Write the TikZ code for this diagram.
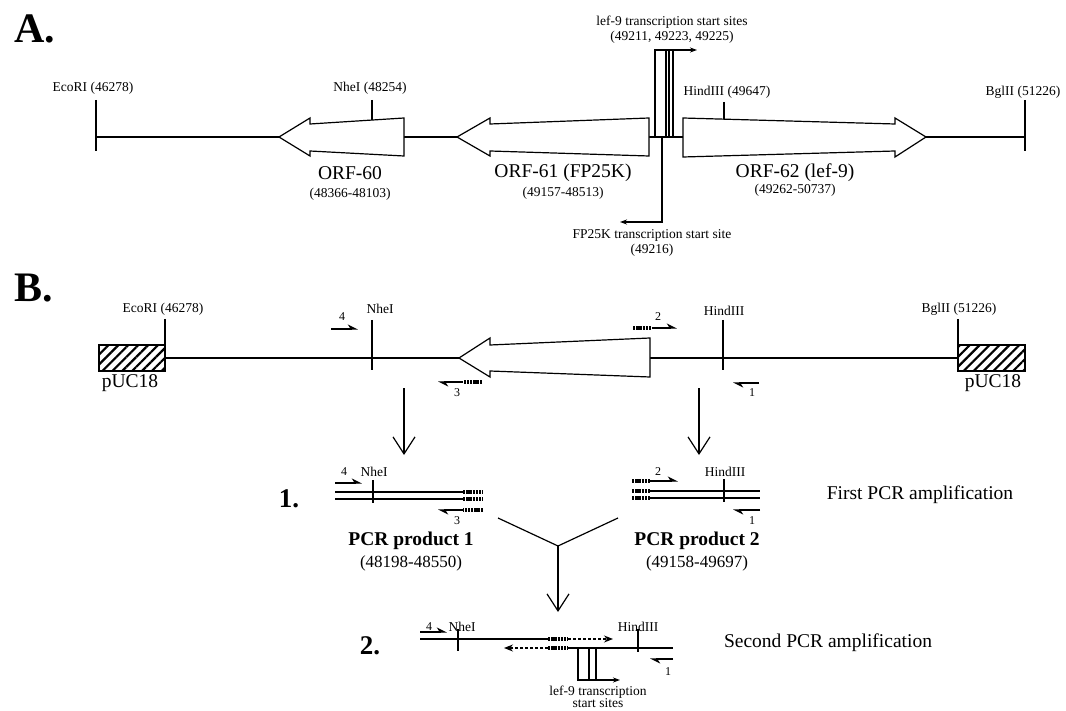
\documentclass[tikz,border=0pt]{standalone}
\usepackage{fontspec}
\setmainfont{Liberation Serif}
\usepackage{tikz}
\usetikzlibrary{arrows.meta}
\usetikzlibrary{patterns.meta}
\usetikzlibrary{backgrounds}
\pgfdeclarelayer{edgelayer}
\pgfdeclarelayer{nodelayer}
\pgfsetlayers{background,edgelayer,nodelayer,main}
\tikzstyle{none}=[inner sep=0mm]
\tikzstyle{lbl}=[inner sep=0mm,font=\fontsize{13.5}{15}\selectfont]
\tikzstyle{num}=[inner sep=0mm,font=\fontsize{12}{13}\selectfont]
\tikzstyle{orf lbl}=[inner sep=0mm,font=\fontsize{19.5}{22}\selectfont]
\tikzstyle{span lbl}=[inner sep=0mm,font=\fontsize{17}{19}\selectfont]
\tikzstyle{panel}=[inner sep=0mm,font=\fontsize{42}{44}\selectfont\bfseries]
\tikzstyle{stepno}=[inner sep=0mm,font=\fontsize{27}{30}\selectfont\bfseries]
\tikzstyle{prod}=[inner sep=0mm,font=\fontsize{19.5}{22}\selectfont\bfseries]
\tikzstyle{dna}=[line width=1.2pt]
\tikzstyle{orf}=[draw,fill=white,line width=1.2pt,line join=miter]
\tikzstyle{primer}=[line width=1.2pt,-{Stealth[harpoon,length=9pt,width=9pt]}]
\tikzstyle{tail}=[line width=4.2pt,dash pattern=on 2.4pt off 0.8pt]
\tikzstyle{down}=[line width=1.2pt,-{Straight Barb[length=17pt,width=22pt,line width=1.2pt]}]
\tikzstyle{start}=[line width=1.2pt,-{Stealth[length=7pt,width=5pt]}]
\tikzstyle{ext}=[line width=1.2pt,dash pattern=on 3pt off 2pt,-{Stealth[length=9pt,width=7pt]}]
\tikzstyle{puc}=[draw,line width=1.2pt,pattern={Lines[angle=45,distance=7pt,line width=2.2pt]}]

\begin{document}
\begin{tikzpicture}[x=1pt,y=-1pt]
	\useasboundingbox (0,0) rectangle (1066,711);
	\begin{pgfonlayer}{nodelayer}
		% panel A
		\node [style=panel] (pa) at (35, 29) {A.};
		\node [style=lbl] (ecoa) at (93, 88) {EcoRI (46278)};
		\node [style=lbl] (nhea) at (370, 88) {NheI (48254)};
		\node [style=lbl] (hinda) at (727, 92) {HindIII (49647)};
		\node [style=lbl] (bgla) at (1023, 92) {BglII (51226)};
		\node [style=lbl] (lefa) at (672, 22) {lef-9 transcription start sites};
		\node [style=lbl] (lefb) at (672, 37) {(49211, 49223, 49225)};
		\node [style=lbl] (fpa) at (652, 235) {FP25K transcription start site};
		\node [style=lbl] (fpb) at (652, 250) {(49216)};
		\node [style=orf lbl] (o60) at (350, 173) {ORF-60};
		\node [style=lbl] (o60r) at (350, 194) {(48366-48103)};
		\node [style=orf lbl] (o61) at (563, 173) {ORF-61 (FP25K)};
		\node [style=lbl] (o61r) at (563, 193) {(49157-48513)};
		\node [style=orf lbl] (o62) at (795, 173) {ORF-62 (lef-9)};
		\node [style=lbl] (o62r) at (795, 190) {(49262-50737)};
		% panel B
		\node [style=panel] (pb) at (34, 288) {B.};
		\node [style=lbl] (ecob) at (163, 309) {EcoRI (46278)};
		\node [style=lbl] (nheb) at (380, 309) {NheI};
		\node [style=lbl] (hindb) at (724, 311) {HindIII};
		\node [style=lbl] (bglb) at (959, 309) {BglII (51226)};
		\node [style=orf lbl] (puca) at (130, 383) {pUC18};
		\node [style=orf lbl] (pucb) at (993, 383) {pUC18};
		\node [style=num] (p4b) at (342, 317) {4};
		\node [style=num] (p2b) at (658, 317) {2};
		\node [style=num] (p3b) at (457, 393) {3};
		\node [style=num] (p1b) at (752, 393) {1};
		% first PCR
		\node [style=stepno] (s1) at (289, 499) {1.};
		\node [style=num] (p4c) at (344, 472) {4};
		\node [style=lbl] (nhec) at (374, 472) {NheI};
		\node [style=num] (p3c) at (457, 521) {3};
		\node [style=prod] (pcr1) at (411, 541) {PCR product 1};
		\node [style=span lbl] (pcr1r) at (411, 563) {(48198-48550)};
		\node [style=num] (p2c) at (658, 472) {2};
		\node [style=lbl] (hindc) at (725, 472) {HindIII};
		\node [style=num] (p1c) at (752, 521) {1};
		\node [style=prod] (pcr2) at (697, 541) {PCR product 2};
		\node [style=span lbl] (pcr2r) at (697, 563) {(49158-49697)};
		\node [style=orf lbl] (first) at (920, 495) {First PCR amplification};
		% second PCR
		\node [style=stepno] (s2) at (370, 646) {2.};
		\node [style=num] (p4d) at (429, 627) {4};
		\node [style=lbl] (nhed) at (462, 627) {NheI};
		\node [style=lbl] (hindd) at (638, 627) {HindIII};
		\node [style=num] (p1d) at (668, 672) {1};
		\node [style=lbl] (lefc) at (598, 692) {lef-9 transcription};
		\node [style=lbl] (lefd) at (598, 703) {start sites};
		\node [style=orf lbl] (second) at (828, 643) {Second PCR amplification};
		% connector ends
		\node [style=none] (d1a) at (404, 388) {};
		\node [style=none] (d1b) at (404, 455) {};
		\node [style=none] (d2a) at (699, 388) {};
		\node [style=none] (d2b) at (699, 455) {};
		\node [style=none] (y1) at (498, 518) {};
		\node [style=none] (y2) at (618, 518) {};
		\node [style=none] (yj) at (558, 546) {};
		\node [style=none] (yb) at (558, 612) {};
	\end{pgfonlayer}
	\begin{pgfonlayer}{edgelayer}
		% panel A map
		\draw[dna] (96, 137) -- (1025, 137);
		\draw[dna] (96, 100) -- (96, 151);
		\draw[dna] (1025, 100) -- (1025, 151);
		\draw[dna] (372, 100) -- (372, 124);
		\draw[dna] (724, 102) -- (724, 124);
		\draw[start] (655, 137) -- (655, 50) -- (697, 50);
		\draw[dna] (666, 50) -- (666, 137);
		\draw[dna] (669, 50) -- (669, 137);
		\draw[dna] (673, 50) -- (673, 137);
		\draw[start] (662, 137) -- (662, 222) -- (620, 222);
		% panel B map
		\draw[dna] (165, 358) -- (650, 358);
		\draw[line width=1.6pt] (650, 358) -- (958, 358);
		\draw[dna] (165, 319) -- (165, 345);
		\draw[dna] (958, 319) -- (958, 345);
		\draw[dna] (372, 320) -- (372, 370);
		\draw[dna] (723, 320) -- (723, 370);
		\draw[primer] (331, 329) -- (358, 329);
		\draw[tail] (633, 328) -- (652, 328);
		\draw[primer] (652, 328) -- (677, 328);
		\draw[tail] (482, 382) -- (463, 382);
		\draw[primer] (463, 382) -- (438, 382);
		\draw[primer] (759, 383) -- (733, 383);
		% flow
		\draw[down] (d1a.center) -- (d1b.center);
		\draw[down] (d2a.center) -- (d2b.center);
		\draw[dna] (y1.center) -- (yj.center) -- (y2.center);
		\draw[down] (yj.center) -- (yb.center);
		% PCR product 1
		\draw[dna] (335, 492) -- (463, 492);
		\draw[dna] (335, 499) -- (463, 499);
		\draw[tail] (463, 492) -- (483, 492);
		\draw[tail] (463, 499) -- (483, 499);
		\draw[dna] (373, 480) -- (373, 503);
		\draw[primer] (335, 483) -- (362, 483);
		\draw[tail] (483, 510) -- (463, 510);
		\draw[primer] (463, 510) -- (438, 510);
		% PCR product 2
		\draw[dna] (650, 491) -- (760, 491);
		\draw[dna] (650, 498) -- (760, 498);
		\draw[tail] (632, 491) -- (650, 491);
		\draw[tail] (632, 498) -- (650, 498);
		\draw[dna] (724, 479) -- (724, 502);
		\draw[tail] (632, 481) -- (650, 481);
		\draw[primer] (650, 481) -- (678, 481);
		\draw[primer] (760, 510) -- (733, 510);
		% second PCR
		\draw[dna] (420, 639) -- (548, 639);
		\draw[tail] (548, 639) -- (568, 639);
		\draw[tail] (548, 648) -- (568, 648);
		\draw[dna] (568, 648) -- (673, 648);
		\draw[ext] (568, 639) -- (613, 639);
		\draw[ext] (548, 648) -- (504, 648);
		\draw[dna] (458, 629) -- (458, 651);
		\draw[dna] (638, 629) -- (638, 652);
		\draw[primer] (420, 632) -- (447, 632);
		\draw[primer] (673, 659) -- (650, 659);
		\draw[start] (578, 648) -- (578, 680) -- (620, 680);
		\draw[dna] (589, 648) -- (589, 680);
		\draw[dna] (596, 648) -- (596, 680);
	\end{pgfonlayer}
	% reading frames
	\draw[orf] (279, 137) -- (310, 118) -- (310, 124) -- (404, 118) -- (404, 156) -- (310, 151) -- (310, 156) -- cycle;
	\draw[orf] (457, 137) -- (490, 118) -- (490, 124) -- (649, 118) -- (649, 156) -- (490, 151) -- (490, 156) -- cycle;
	\draw[orf] (926, 137) -- (895, 118) -- (895, 124) -- (683, 118) -- (683, 157) -- (895, 151) -- (895, 157) -- cycle;
	\draw[orf] (459, 358) -- (490, 338) -- (490, 345) -- (650, 338) -- (650, 377) -- (490, 371) -- (490, 377) -- cycle;
	% vector ends
	\draw[puc] (99, 345) rectangle (165, 371);
	\draw[puc] (958, 345) rectangle (1025, 371);
\end{tikzpicture}
\end{document}
